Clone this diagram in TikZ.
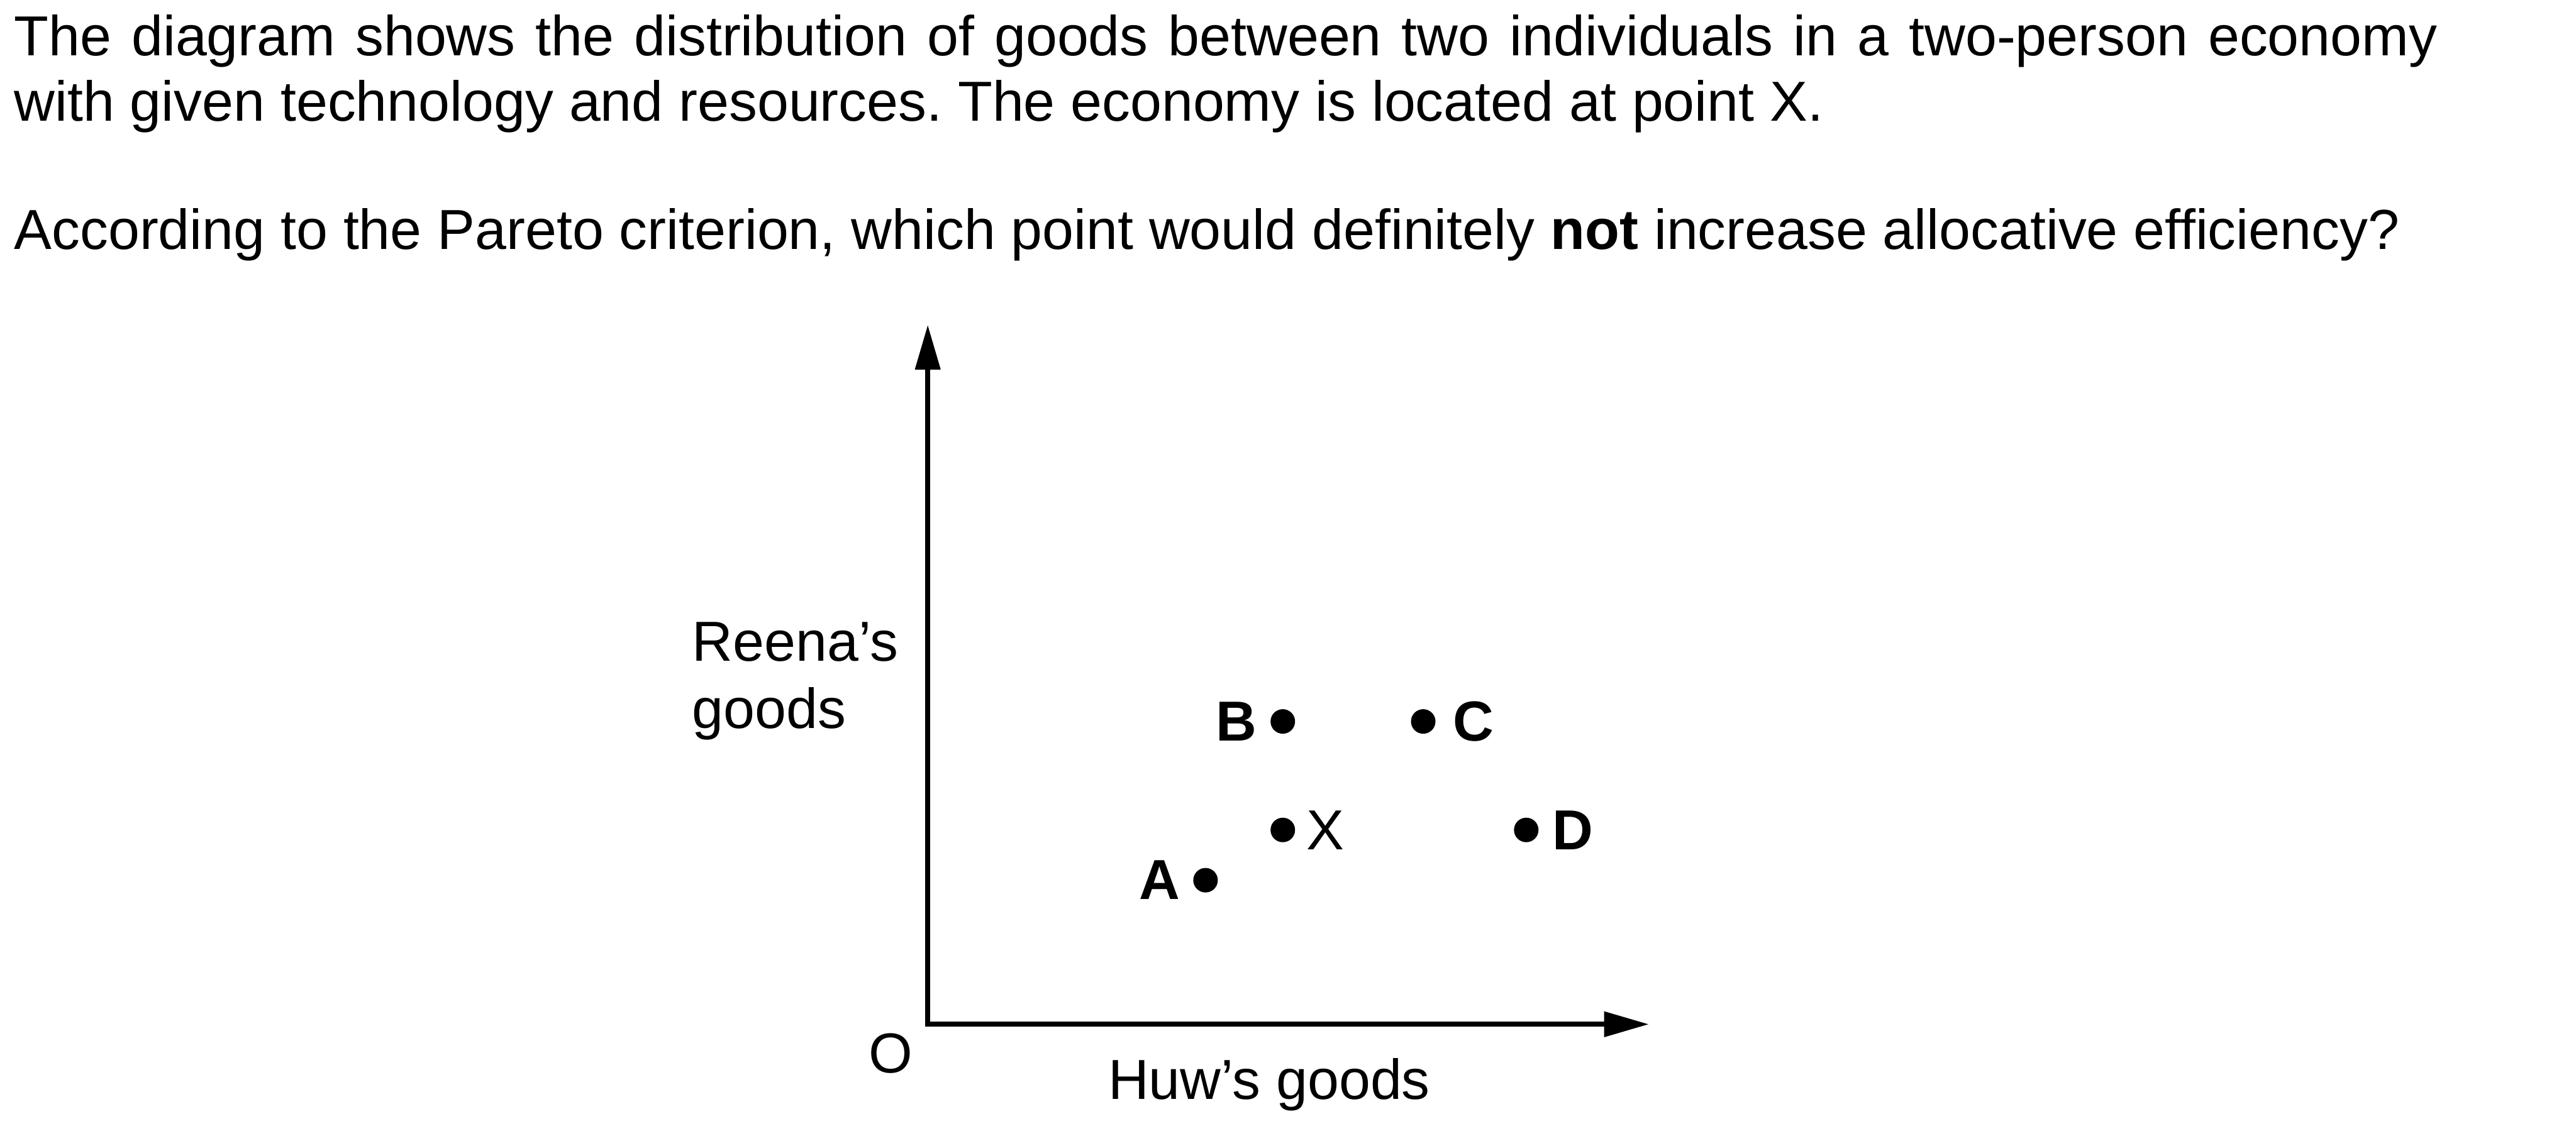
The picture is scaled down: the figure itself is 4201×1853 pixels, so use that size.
\documentclass[tikz,border=0pt]{standalone}
\usepackage{fontspec}
\setmainfont{Liberation Sans}
\usetikzlibrary{arrows.meta, positioning}
\frenchspacing

\tikzset{
  qline/.style={anchor=base west, inner sep=0pt, font={\fontsize{92}{106}\selectfont}},
  axlabel/.style={inner sep=0pt, font={\fontsize{92}{110}\selectfont}},
  dot/.style={circle, fill=black, inner sep=0pt, minimum size=40pt},
  ptlabel/.style={inner sep=0pt, font={\fontsize{92}{110}\selectfont\bfseries}},
  axis/.style={line width=8pt, line join=miter, {Triangle[length=73pt,width=40pt]}-{Triangle[length=73pt,width=40pt]}}
}

\begin{document}
\begin{tikzpicture}[x=1pt, y=-1pt]
\useasboundingbox (0,0) rectangle (4201,1853);

% question text
\node[qline] (q1) at (23,91) {\makebox[3952pt][s]{The diagram shows the distribution of goods between two individuals in a two-person economy}};
\node[qline] (q2) at (23,197) {with given technology and resources. The economy is located at point X.};
\node[qline] (q3) at (23,407) {According to the Pareto criterion, which point would definitely \textbf{not} increase allocative efficiency?};

% axes
\coordinate (origin) at (1513,1671);
\coordinate (ytip) at (1513,530);
\coordinate (xtip) at (2689,1671);
\draw[axis] (ytip) -- (origin) -- (xtip);

\node[axlabel, anchor=base] (olabel) at (1453,1750) {O};
\node[axlabel, anchor=base west] (xlabel) at (1807,1793) {Huw’s goods};
\node[axlabel, align=left, anchor=west] (ylabel) at (1129,1111) {Reena’s\\goods};

% allocations
\node[dot] (ptX) at (2092,1354) {};
\node[dot] (ptA) at (1966,1436) {};
\node[dot] (ptB) at (2092,1177) {};
\node[dot] (ptC) at (2321,1177) {};
\node[dot] (ptD) at (2489,1354) {};

\node[axlabel, right=18pt of ptX] (lblX) {X};
\node[ptlabel, left=21pt of ptA] (lblA) {A};
\node[ptlabel, left=22pt of ptB] (lblB) {B};
\node[ptlabel, right=28pt of ptC] (lblC) {C};
\node[ptlabel, right=22pt of ptD] (lblD) {D};
\end{tikzpicture}
\end{document}
